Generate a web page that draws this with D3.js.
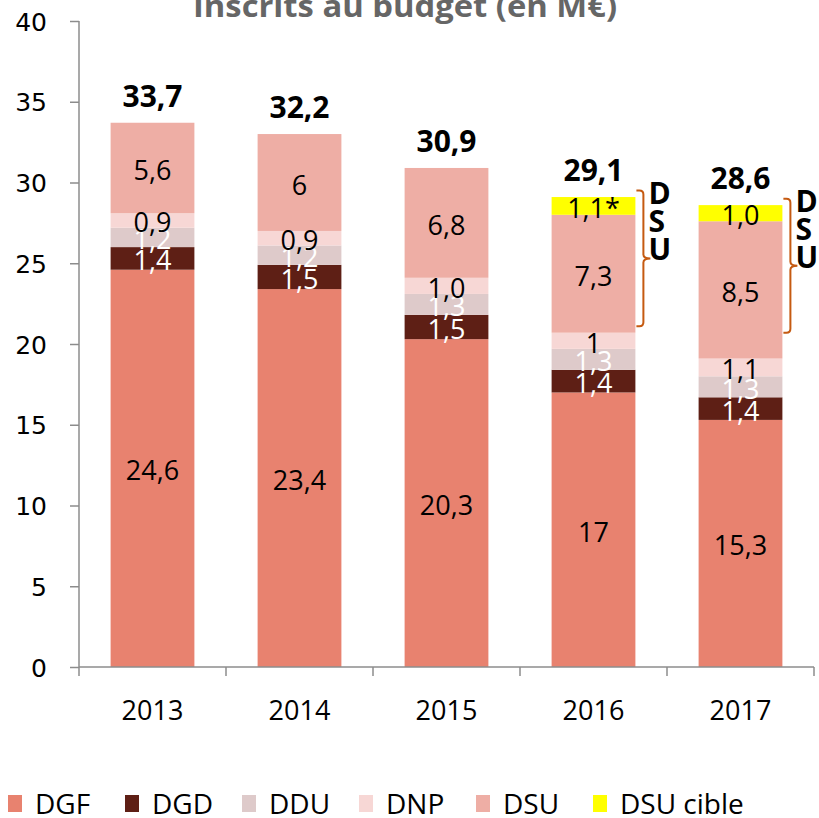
<!DOCTYPE html>
<html><head><meta charset="utf-8">
<script src="https://cdn.jsdelivr.net/npm/d3@7"></script>
<style>
html,body{margin:0;padding:0;background:#fff;}
svg{display:block;}
</style></head>
<body>
<svg id="chart" width="819" height="818"></svg>
<script>
// ---- data ----
const years = ["2013", "2014", "2015", "2016", "2017"];
const DGF = [24.6, 23.4, 20.3, 17, 15.3];
const DGD = [1.4, 1.5, 1.5, 1.4, 1.4];
const DDU = [1.2, 1.2, 1.3, 1.3, 1.3];
const DNP = [0.9, 0.9, 1.0, 1.0, 1.1];
const DSU = [5.6, 6, 6.8, 7.3, 8.5];
const DSUcible = [0, 0, 0, 1.1, 1.0];

const labelsDGF = ["24,6", "23,4", "20,3", "17", "15,3"];
const labelsDGD = ["1,4", "1,5", "1,5", "1,4", "1,4"];
const labelsDDU = ["1,2", "1,2", "1,3", "1,3", "1,3"];
const labelsDNP = ["0,9", "0,9", "1,0", "1", "1,1"];
const labelsDSU = ["5,6", "6", "6,8", "7,3", "8,5"];
const labelsCible = ["", "", "", "1,1*", "1,0"];
const totalLabels = ["33,7", "32,2", "30,9", "29,1", "28,6"];

const yTicks = [0, 5, 10, 15, 20, 25, 30, 35, 40];
const seriesNames = ["DGF", "DGD", "DDU", "DNP", "DSU", "DSU cible"];
const title = "Inscrits au budget  (en M€)";

// brace annotations (value range in data units)
const braceYears = ["2016", "2017"];
const braceFrom = [21.1, 20.7];
const braceTo = [29.5, 29.0];
const braceText = ["D", "S", "U"];

// ---- build ----
const seriesValues = [DGF, DGD, DDU, DNP, DSU, DSUcible];
const seriesLabels = [labelsDGF, labelsDGD, labelsDDU, labelsDNP, labelsDSU, labelsCible];
const colors = ["#E8826F", "#5E1F15", "#DECACA", "#F7D7D5", "#EEAEA5", "#FFFF00"];
const labelColors = ["#000", "#fff", "#fff", "#000", "#000", "#000"];

const svg = d3.select("#chart");
const x = d3.scaleBand().domain(years).range([79, 814]).paddingInner(0.43).paddingOuter(0.215);
const y = d3.scaleLinear().domain([0, 40]).range([667, 21]);
const axisColor = "#8c8c8c";
const labelFont = "'Open Sans', sans-serif";

// title
svg.append("text").attr("x", 405).attr("y", 17).attr("text-anchor", "middle")
  .attr("font-family", labelFont).attr("font-weight", "bold").attr("font-size", 30)
  .attr("fill", "#666").attr("textLength", 424).attr("lengthAdjust", "spacingAndGlyphs")
  .text(title);

// stacked data
const rows = years.map((yr, i) => {
  const r = { year: yr };
  seriesNames.forEach((s, k) => r[s] = seriesValues[k][i]);
  return r;
});
const stack = d3.stack().keys(seriesNames)(rows);

const gBars = svg.append("g");
stack.forEach((layer, k) => {
  gBars.selectAll(null).data(layer.filter(d => d[1] - d[0] > 0)).enter().append("rect")
    .attr("x", d => x(d.data.year)).attr("width", x.bandwidth())
    .attr("y", d => y(d[1])).attr("height", d => y(d[0]) - y(d[1]))
    .attr("fill", colors[k]);
});

// segment labels
const gLab = svg.append("g");
stack.forEach((layer, k) => {
  layer.forEach((d, i) => {
    const txt = seriesLabels[k][i];
    if (!txt) return;
    const cy = (y(d[0]) + y(d[1])) / 2;
    gLab.append("text").attr("x", x(d.data.year) + x.bandwidth() / 2).attr("y", cy + 12)
      .attr("text-anchor", "middle").attr("font-family", labelFont).attr("font-size", 27)
      .attr("fill", labelColors[k]).text(txt);
  });
});

// totals
const last = stack[stack.length - 1];
last.forEach((d, i) => {
  svg.append("text").attr("x", x(d.data.year) + x.bandwidth() / 2).attr("y", y(d[1]) - 16)
    .attr("text-anchor", "middle").attr("font-family", labelFont).attr("font-weight", "bold")
    .attr("font-size", 30).attr("fill", "#000").text(totalLabels[i]);
});

// axes
const gy = svg.append("g").attr("transform", "translate(79,0)")
  .call(d3.axisLeft(y).tickValues(yTicks).tickSize(9).tickPadding(23).tickFormat(d3.format("d")));
gy.select(".domain").attr("stroke", axisColor).attr("stroke-width", 1.5).attr("d", `M0,${y(40)}V${y(0)}`);
gy.selectAll(".tick line").attr("stroke", axisColor).attr("stroke-width", 1.5);
gy.selectAll(".tick text").attr("font-family", "'DejaVu Sans', sans-serif").attr("font-size", 25)
  .attr("fill", "#000").attr("dy", "0.36em");

const gx = svg.append("g").attr("transform", "translate(0,667)");
gx.append("line").attr("x1", 79).attr("x2", 814).attr("stroke", axisColor).attr("stroke-width", 1.5);
const bounds = years.map(yv => x(yv) - x.step() * x.paddingOuter()).concat([814]);
gx.selectAll(null).data(bounds).enter().append("line")
  .attr("x1", d => d).attr("x2", d => d).attr("y1", 0).attr("y2", 9)
  .attr("stroke", axisColor).attr("stroke-width", 1.5);
gx.selectAll(null).data(years).enter().append("text")
  .attr("x", d => x(d) + x.bandwidth() / 2).attr("y", 53).attr("text-anchor", "middle")
  .attr("font-family", labelFont).attr("font-size", 27).attr("fill", "#000").text(d => d);

// braces
const braceColor = "#C55A11";
braceYears.forEach((yr, i) => {
  const x0 = x(yr) + x.bandwidth();
  const xl = x0 + 1, xv = x0 + 8, xt = x0 + 15;
  const top = y(braceTo[i]), bot = y(braceFrom[i]), mid = (top + bot) / 2;
  const r = 4;
  const path = `M${xl},${top} H${xv - r} Q${xv},${top} ${xv},${top + r} V${mid - r} Q${xv},${mid} ${xt},${mid}
    Q${xv},${mid} ${xv},${mid + r} V${bot - r} Q${xv},${bot} ${xv - r},${bot} H${xl}`;
  svg.append("path").attr("d", path).attr("fill", "none").attr("stroke", braceColor).attr("stroke-width", 2);
  braceText.forEach((c, j) => {
    svg.append("text").attr("x", x0 + 13).attr("y", top + 13 + j * 28)
      .attr("font-family", labelFont).attr("font-weight", "bold").attr("font-size", 30)
      .attr("fill", "#000").text(c);
  });
});

// legend
const gLeg = svg.append("g");
seriesNames.forEach((s, k) => {
  const lx = 8 + k * 117;
  gLeg.append("rect").attr("x", lx).attr("y", 795).attr("width", 14).attr("height", 17).attr("fill", colors[k]);
  gLeg.append("text").attr("x", lx + 27).attr("y", 814).attr("font-family", labelFont)
    .attr("font-size", 28).attr("fill", "#000").text(s);
});
</script>
</body></html>
